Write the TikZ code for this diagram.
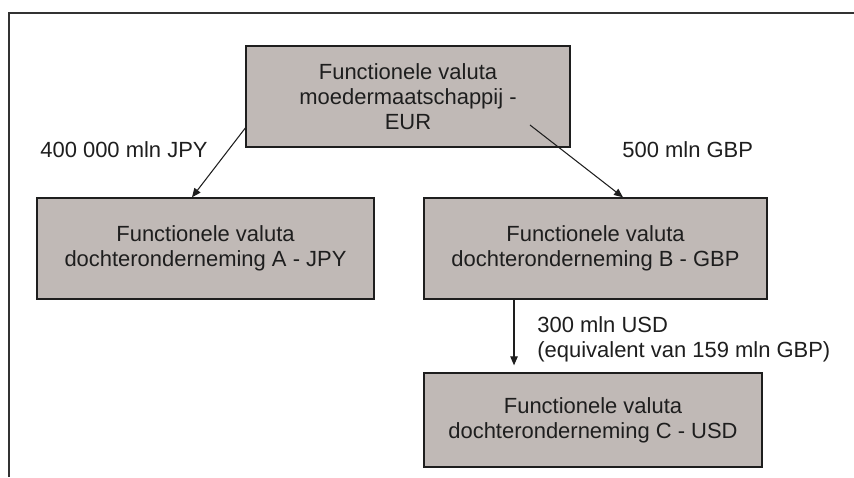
\documentclass[tikz,border=0pt]{standalone}
\usepackage{fontspec}
\setmainfont{Liberation Sans}
\usepackage{tikz}
\usetikzlibrary{arrows.meta}
\definecolor{boxgray}{RGB}{192,185,182}
\definecolor{inkgray}{RGB}{30,30,30}
\definecolor{framegray}{RGB}{50,50,50}
\tikzstyle{valutabox}=[draw=inkgray, fill=boxgray, line width=0.8pt, align=center, text=inkgray, font=\fontsize{12.5}{14.4}\selectfont, inner sep=0pt]
\tikzstyle{bedrag}=[anchor=west, align=left, text=inkgray, font=\fontsize{12.5}{14.4}\selectfont, inner sep=0pt]
\tikzstyle{flow}=[->, draw=inkgray, line width=0.6pt, >={Triangle[length=1.8mm, width=1.5mm]}]

\begin{document}
\begin{tikzpicture}[x=0.02cm, y=-0.02cm]
		   \useasboundingbox (0,0) rectangle (854,477);
		   \draw[framegray, line width=1.1pt] (9,477) -- (9,13) -- (854,13);
		   \begin{scope}
			   \node (0) at (408, 96.5)[valutabox, minimum width=6.48cm, minimum height=2.02cm] {Functionele valuta\\moedermaatschappij -\\EUR};
			   \node (1) at (205.5, 248.5)[valutabox, minimum width=6.74cm, minimum height=2.02cm] {Functionele valuta\\dochteronderneming A - JPY};
			   \node (2) at (595.5, 248.5)[valutabox, minimum width=6.86cm, minimum height=2.02cm] {Functionele valuta\\dochteronderneming B - GBP};
			   \node (3) at (593, 420)[valutabox, minimum width=6.76cm, minimum height=1.88cm] {Functionele valuta\\dochteronderneming C - USD};
			   \node (4) at (40, 150)[bedrag] {400 000 mln JPY};
			   \node (5) at (622, 150)[bedrag] {500 mln GBP};
			   \node (6) at (537, 339)[bedrag] {300 mln USD\\(equivalent van 159 mln GBP)};
		   \end{scope}
		   \begin{scope}
			   \path ([yshift=-0.63cm]0.west) edge[flow] ([xshift=-0.27cm]1.north);
			   \path ([xshift=2.44cm, yshift=-0.57cm]0.center) edge[flow] ([xshift=0.55cm]2.north);
			   \path ([xshift=-1.63cm]2.south) edge[flow, shorten >=0.14cm] ([xshift=-1.63cm]2.south |- 3.north);
		   \end{scope}
	   \end{tikzpicture}
\end{document}
